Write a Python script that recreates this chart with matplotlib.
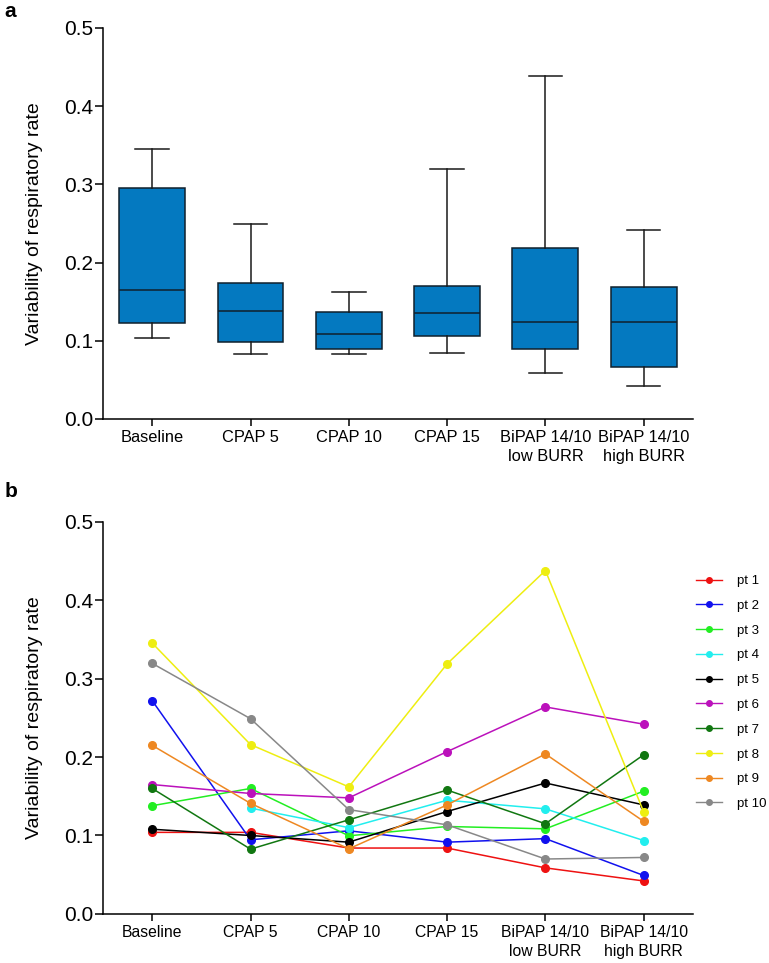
import numpy as np
from matplotlib import pyplot as plt
from matplotlib.lines import Line2D

plt.rcParams['font.family'] = ['Liberation Sans', 'DejaVu Sans']

conditions = ["Baseline", "CPAP 5", "CPAP 10", "CPAP 15",
              "BiPAP 14/10\nlow BURR", "BiPAP 14/10\nhigh BURR"]

# per patient values (pt 4 has no baseline)
pt1 = [0.104, 0.104, 0.084, 0.084, 0.0587, 0.042]
pt2 = [0.272, 0.0945, 0.106, 0.0915, 0.096, 0.049]
pt3 = [0.138, 0.160, 0.0996, 0.1115, 0.1085, 0.1566]
pt4 = [np.nan, 0.135, 0.110, 0.145, 0.134, 0.0936]
pt5 = [0.108, 0.100, 0.0915, 0.1306, 0.167, 0.139]
pt6 = [0.165, 0.1536, 0.148, 0.207, 0.264, 0.242]
pt7 = [0.160, 0.0826, 0.120, 0.158, 0.115, 0.203]
pt8 = [0.3455, 0.216, 0.162, 0.319, 0.438, 0.130]
pt9 = [0.215, 0.141, 0.083, 0.139, 0.204, 0.118]
pt10 = [0.3196, 0.249, 0.133, 0.1136, 0.070, 0.072]

patients = [pt1, pt2, pt3, pt4, pt5, pt6, pt7, pt8, pt9, pt10]
names = ["pt %d" % (i + 1) for i in range(10)]
colors = ["#ee1111", "#1111ee", "#22ee22", "#22eeee", "#000000",
          "#bb11bb", "#117711", "#eeee11", "#ee8822", "#888888"]

data = np.array(patients)
x = np.arange(len(conditions))

fig = plt.figure(figsize=(7.69, 9.63), dpi=100)
ax_a = fig.add_axes([0.134, 0.565, 0.767, 0.406])
ax_b = fig.add_axes([0.134, 0.051, 0.767, 0.407])


def style_axes(ax, tick_size):
    for s in ["top", "right"]:
        ax.spines[s].set_visible(False)
    for s in ["left", "bottom"]:
        ax.spines[s].set_linewidth(1.1)
    ax.set_xlim(-0.5, 5.5)
    ax.set_ylim(0, 0.5)
    ax.set_yticks([0.0, 0.1, 0.2, 0.3, 0.4, 0.5])
    ax.set_yticklabels(["0.0", "0.1", "0.2", "0.3", "0.4", "0.5"], fontsize=15)
    ax.set_xticks(x)
    ax.set_xticklabels(conditions, fontsize=tick_size, linespacing=1.3)
    ax.tick_params(axis="y", length=6, width=1.1, pad=1)
    ax.tick_params(axis="x", length=5, width=1.1, pad=3)
    ax.set_ylabel("Variability of respiratory rate", fontsize=14, labelpad=15)


# panel a: box and whiskers (min to max), quartiles as in Prism
stats = []
for j in range(len(conditions)):
    col = data[:, j]
    col = col[~np.isnan(col)]
    q1, med, q3 = np.percentile(col, [25, 50, 75], method="weibull")
    stats.append(dict(med=med, q1=q1, q3=q3, whislo=col.min(), whishi=col.max(), fliers=[]))

ax_a.bxp(stats, positions=x, widths=0.67, patch_artist=True, showfliers=False,
         boxprops=dict(facecolor="#0479c0", edgecolor="#10202c", linewidth=1.1),
         medianprops=dict(color="#10202c", linewidth=1.1),
         whiskerprops=dict(color="#1a1a1a", linewidth=1.1),
         capprops=dict(color="#1a1a1a", linewidth=1.1), capwidths=0.34)
style_axes(ax_a, 11.8)

# panel b: individual patients
for vals, c, n in zip(patients, colors, names):
    ax_b.plot(x, vals, color=c, marker="o", markersize=5.5, linewidth=1.1, label=n)
style_axes(ax_b, 11.3)

handles = [Line2D([], [], color=c, marker="o", markersize=4, linewidth=1.0) for c in colors]
fig.legend(handles, names, loc="upper left", bbox_to_anchor=(0.905, 0.403),
           frameon=False, fontsize=9.5, handlelength=2.0, handletextpad=1.1,
           labelspacing=0.95, borderpad=0, borderaxespad=0)

fig.text(0.006, 0.998, "a", fontsize=15, fontweight="bold", va="top")
fig.text(0.006, 0.499, "b", fontsize=15, fontweight="bold", va="top")

fig.savefig("out.png", dpi=100)
